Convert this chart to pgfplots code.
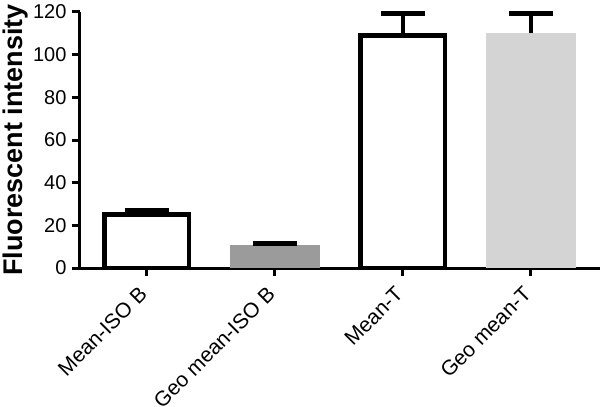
\documentclass[border=0pt]{standalone}
\usepackage{fontspec}
\setmainfont{Liberation Sans}
\usepackage{pgfplots}
\pgfplotsset{compat=1.18}
\usetikzlibrary{calc}
\definecolor{geoiso}{HTML}{9B9B9B}
\definecolor{geot}{HTML}{D4D4D4}

\begin{document}
\begin{tikzpicture}
\begin{axis}[
  name=ax,
  scale only axis,
  width=520pt, height=256pt,
  xmin=-0.52, xmax=3.54,
  ymin=0, ymax=120,
  ytick={0,20,...,120},
  xtick={0,1,2,3},
  xticklabels={Mean-ISO B, Geo mean-ISO B, Mean-T, Geo mean-T},
  axis lines=left,
  axis line style={line width=3pt, -},
  tick style={line width=3pt, black},
  tick align=outside,
  major tick length=8pt,
  /pgf/number format/assume math mode=true,
  ticklabel style={font=\fontsize{20}{24}\selectfont},
  yticklabel style={xshift=-2pt},
  xticklabel style={font=\fontsize{21}{24}\selectfont, xshift=-1pt, yshift=-12pt, rotate=45, anchor=east},
  ylabel={\bfseries Fluorescent intensity},
  ylabel style={font=\fontsize{27}{30}\selectfont, yshift=-2pt},
  clip=false,
]
% Mean-ISO B
\addplot[ybar, bar width=0.66, bar shift=0, fill=white, draw=black, line width=4.5pt,
  error bars/.cd, y dir=plus, y explicit,
  error bar style={line width=4.5pt, black},
  error mark options={rotate=90, line width=4.5pt, mark size=22pt, black}]
  coordinates {(0,25) +- (0,2.2)};
% Geo mean-ISO B
\addplot[ybar, bar width=0.7, bar shift=0, fill=geoiso, draw=none,
  error bars/.cd, y dir=plus, y explicit,
  error bar style={line width=4.5pt, black},
  error mark options={rotate=90, line width=4.5pt, mark size=22pt, black}]
  coordinates {(1,11) +- (0,0.6)};
% Mean-T
\addplot[ybar, bar width=0.66, bar shift=0, fill=white, draw=black, line width=4.5pt,
  error bars/.cd, y dir=plus, y explicit,
  error bar style={line width=4.5pt, black},
  error mark options={rotate=90, line width=4.5pt, mark size=22pt, black}]
  coordinates {(2,109) +- (0,10.3)};
% Geo mean-T
\addplot[ybar, bar width=0.7, bar shift=0, fill=geot, draw=none,
  error bars/.cd, y dir=plus, y explicit,
  error bar style={line width=4.5pt, black},
  error mark options={rotate=90, line width=4.5pt, mark size=22pt, black}]
  coordinates {(3,110) +- (0,9.4)};
\end{axis}
\draw[line width=3pt] (ax.south west) -- ++(-8pt,0);
\pgfresetboundingbox
\path[use as bounding box] ($(ax.south west)+(-80pt,-139pt)$) rectangle ($(ax.north east)+(0pt,12pt)$);
\end{tikzpicture}
\end{document}
